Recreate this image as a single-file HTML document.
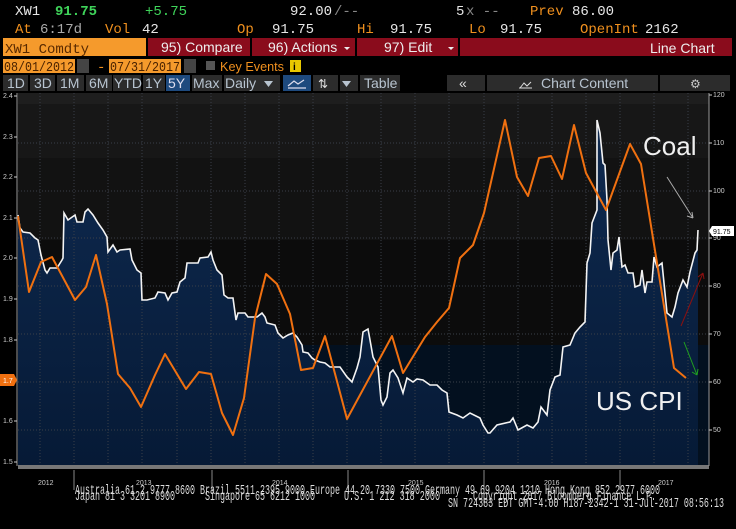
<!DOCTYPE html>
<html><head><meta charset="utf-8"><style>
html,body{margin:0;padding:0;background:#000;width:736px;height:529px;overflow:hidden}
svg{display:block}
.m{font-family:"Liberation Mono",monospace;font-size:14px}
.s{font-family:"Liberation Sans",sans-serif}
</style></head><body>
<svg width="736" height="529" viewBox="0 0 736 529" xmlns="http://www.w3.org/2000/svg">
<rect width="736" height="529" fill="#000"/>
<g class="m">
<text x="15" y="15" fill="#e6e6e6">XW1</text>
<text x="55" y="15" fill="#3fd45a" font-weight="bold">91.75</text>
<text x="145" y="15" fill="#3fd45a">+5.75</text>
<text x="290" y="15" fill="#e6e6e6">92.00</text><text x="334" y="15" fill="#888">/--</text>
<text x="456" y="15" fill="#e6e6e6">5</text><text x="466" y="15" fill="#888">x --</text>
<text x="530" y="15" fill="#f0901e">Prev</text><text x="572" y="15" fill="#e6e6e6">86.00</text>
<text x="15" y="33" fill="#f0901e">At</text><text x="40" y="33" fill="#aaa">6:17d</text>
<text x="105" y="33" fill="#f0901e">Vol</text><text x="142" y="33" fill="#e6e6e6">42</text>
<text x="237" y="33" fill="#f0901e">Op</text><text x="272" y="33" fill="#e6e6e6">91.75</text>
<text x="357" y="33" fill="#f0901e">Hi</text><text x="390" y="33" fill="#e6e6e6">91.75</text>
<text x="469" y="33" fill="#f0901e">Lo</text><text x="500" y="33" fill="#e6e6e6">91.75</text>
<text x="580" y="33" fill="#f0901e">OpenInt</text><text x="645" y="33" fill="#e6e6e6">2162</text>
</g>
<rect x="3" y="38" width="143" height="18" fill="#f59a2c"/>
<text x="5" y="53" class="m" fill="#5a2a00">XW1 Comdty</text>
<rect x="148" y="38" width="102" height="18" fill="#8a0c1c"/>
<rect x="252" y="38" width="103" height="18" fill="#8a0c1c"/>
<rect x="357" y="38" width="101" height="18" fill="#8a0c1c"/>
<rect x="460" y="38" width="272" height="18" fill="#8a0c1c"/>
<g class="s" font-size="14" fill="#eee">
<text x="161" y="52">95) Compare</text>
<text x="268" y="52">96) Actions</text>
<text x="384" y="52">97) Edit</text>
<text x="650" y="53">Line Chart</text>
</g>
<path d="M344 47h6l-3 3z M448 47h6l-3 3z" fill="#eee"/>
<rect x="3" y="59" width="72" height="14" fill="#f59a2c"/>
<text x="4" y="71" class="m" font-size="13" fill="#4a2200" textLength="70" lengthAdjust="spacingAndGlyphs">08/01/2012</text>
<rect x="77" y="59" width="12" height="14" fill="#444"/>
<text x="97" y="71" class="m" fill="#f0901e">-</text>
<rect x="109" y="59" width="72" height="14" fill="#f59a2c"/>
<text x="110" y="71" class="m" font-size="13" fill="#4a2200" textLength="70" lengthAdjust="spacingAndGlyphs">07/31/2017</text>
<rect x="184" y="59" width="12" height="14" fill="#444"/>
<rect x="206" y="61" width="9" height="9" fill="#555"/>
<text x="220" y="71" class="s" font-size="13" fill="#f0901e" textLength="64" lengthAdjust="spacingAndGlyphs">Key Events</text>
<rect x="290" y="60" width="11" height="12" fill="#e8c800"/>
<text x="293" y="70" class="s" font-size="10" fill="#000" font-weight="bold">i</text>
<g fill="#2c2c2c">
<rect x="3" y="75" width="25" height="16"/><rect x="30" y="75" width="25" height="16"/>
<rect x="57" y="75" width="27" height="16"/><rect x="86" y="75" width="26" height="16"/>
<rect x="113" y="75" width="28" height="16"/><rect x="143" y="75" width="22" height="16"/>
<rect x="192" y="75" width="30" height="16"/><rect x="224" y="75" width="56" height="16"/>
<rect x="313" y="75" width="25" height="16"/><rect x="340" y="75" width="18" height="16"/>
<rect x="360" y="75" width="40" height="16"/><rect x="447" y="75" width="38" height="16"/>
<rect x="487" y="75" width="171" height="16"/><rect x="660" y="75" width="70" height="16"/>
</g>
<rect x="166" y="75" width="24" height="16" fill="#1e4a7e"/>
<rect x="283" y="75" width="28" height="16" fill="#1e4a7e"/>
<g class="s" font-size="14" fill="#b8c4d0">
<text x="7" y="88">1D</text><text x="34" y="88">3D</text><text x="60" y="88">1M</text>
<text x="89" y="88">6M</text><text x="114" y="88">YTD</text><text x="145" y="88">1Y</text>
<text x="168" y="88" fill="#dde">5Y</text><text x="193" y="88">Max</text><text x="225" y="88">Daily</text>
<text x="364" y="88">Table</text><text x="541" y="88">Chart Content</text>
</g>
<path d="M264 81h9l-4.5 6z M342 81h9l-4.5 6z" fill="#b8c4d0"/>
<path d="M288 86l6-5 4 3 6-4 M288 88h18" stroke="#dde" stroke-width="1.2" fill="none"/>
<text x="318" y="88" class="s" font-size="12" fill="#ddd">⇅</text>
<text x="459" y="88" class="s" font-size="14" fill="#ddd">«</text>
<path d="M520 88l4-5 3 3 4-4 M519 88h13" stroke="#ddd" fill="none"/>
<text x="690" y="88" class="s" font-size="12" fill="#ccc">⚙</text>
<rect x="18" y="93" width="691" height="372" fill="#0c0c0c"/>
<rect x="18" y="93" width="691" height="11" fill="#1e1e1e"/>
<rect x="18" y="104" width="691" height="54" fill="#171717"/>
<rect x="18" y="158" width="691" height="82" fill="#121212"/>
<rect x="18" y="345" width="691" height="120" fill="#03101f"/>
<defs><linearGradient id="g" x1="0" y1="0" x2="0" y2="1"><stop offset="0" stop-color="#0f2a50"/><stop offset="1" stop-color="#061a36"/></linearGradient></defs>
<polygon fill="url(#g)" points="18,465 18,215 20,228 23,232 30,233 35,238 38,240 41,255 45,270 47,273 50,268 57,268 62,260 63,258 64,213 68,220 75,215 77,222 83,222 85,212 88,209 93,215 98,223 103,230 107,237 108,252 113,245 117,252 120,250 130,249 132,260 137,270 141,273 142,300 147,300 155,298 158,292 165,293 168,300 172,293 177,292 180,282 185,278 187,263 198,263 200,258 208,257 211,252 213,260 217,270 222,275 224,295 228,298 233,298 236,320 238,313 245,313 248,317 253,317 257,317 262,313 265,317 267,323 275,325 278,333 283,338 288,335 293,333 297,337 302,345 303,352 308,353 312,358 315,360 320,362 325,363 330,367 340,367 347,377 352,382 357,368 360,357 363,332 368,329 370,340 373,357 378,367 381,400 383,405 387,397 390,373 393,370 398,378 403,393 407,378 413,382 417,379 423,380 430,385 437,385 442,390 447,393 449,412 457,415 463,418 470,413 480,418 483,425 488,433 490,433 497,425 510,422 513,418 518,430 527,425 533,428 538,422 541,407 547,415 550,390 555,377 560,375 563,347 570,345 575,333 580,327 585,322 587,263 590,253 592,223 597,210 597,120 600,133 603,163 605,165 607,200 608,240 611,270 613,253 617,250 619,237 622,267 625,265 628,273 633,273 635,287 640,285 642,270 645,293 647,282 652,282 654,257 657,267 662,263 667,313 672,317 675,307 678,293 683,280 687,287 690,272 695,253 697,250 698,230 698,465"/>
<g stroke="#3a3f48" stroke-width="1" stroke-dasharray="1,2">
<path d="M18 143H709M18 191H709M18 238H709M18 286H709M18 334H709M18 382H709M18 430H709"/>
<path d="M40 93V465M74 93V465M108 93V465M142 93V465M177 93V465M211 93V465M245 93V465M279 93V465M313 93V465M347 93V465M381 93V465M415 93V465M449 93V465M484 93V465M518 93V465M552 93V465M586 93V465M620 93V465M654 93V465M688 93V465"/>
</g>
<polyline fill="none" stroke="#f4f4f4" stroke-width="1.6" points="18,215 20,228 23,232 30,233 35,238 38,240 41,255 45,270 47,273 50,268 57,268 62,260 63,258 64,213 68,220 75,215 77,222 83,222 85,212 88,209 93,215 98,223 103,230 107,237 108,252 113,245 117,252 120,250 130,249 132,260 137,270 141,273 142,300 147,300 155,298 158,292 165,293 168,300 172,293 177,292 180,282 185,278 187,263 198,263 200,258 208,257 211,252 213,260 217,270 222,275 224,295 228,298 233,298 236,320 238,313 245,313 248,317 253,317 257,317 262,313 265,317 267,323 275,325 278,333 283,338 288,335 293,333 297,337 302,345 303,352 308,353 312,358 315,360 320,362 325,363 330,367 340,367 347,377 352,382 357,368 360,357 363,332 368,329 370,340 373,357 378,367 381,400 383,405 387,397 390,373 393,370 398,378 403,393 407,378 413,382 417,379 423,380 430,385 437,385 442,390 447,393 449,412 457,415 463,418 470,413 480,418 483,425 488,433 490,433 497,425 510,422 513,418 518,430 527,425 533,428 538,422 541,407 547,415 550,390 555,377 560,375 563,347 570,345 575,333 580,327 585,322 587,263 590,253 592,223 597,210 597,120 600,133 603,163 605,165 607,200 608,240 611,270 613,253 617,250 619,237 622,267 625,265 628,273 633,273 635,287 640,285 642,270 645,293 647,282 652,282 654,257 657,267 662,263 667,313 672,317 675,307 678,293 683,280 687,287 690,272 695,253 697,250 698,230"/>
<polyline fill="none" stroke="#f07010" stroke-width="2" stroke-linejoin="round" points="18,216 29,292 41,262 52,257 75,300 86,287 96,255 107,304 118,374 130,388 141,407 155,375 165,354 186,389 199,372 211,374 222,413 233,435 244,398 255,318 266,274 277,284 290,314 301,370 313,368 325,336 347,419 392,336 403,373 425,337 437,322 449,308 460,258 473,245 484,213 505,120 517,177 528,196 539,158 551,156 562,179 574,125 586,173 606,210 630,144 641,164 674,368 686,378"/>
<rect x="18" y="465" width="691" height="4" fill="#777"/>
<path d="M17 93V466" stroke="#999"/>
<path d="M709 93V466" stroke="#999"/>
<g class="s" font-size="7" fill="#ccc">
<text x="3" y="98">2.4</text><text x="3" y="139">2.3</text><text x="3" y="179">2.2</text><text x="3" y="220">2.1</text><text x="3" y="260">2.0</text><text x="3" y="301">1.9</text><text x="3" y="342">1.8</text><text x="3" y="423">1.6</text><text x="3" y="464">1.5</text>
<text x="713" y="97">120</text><text x="713" y="145">110</text><text x="713" y="193">100</text><text x="713" y="240">90</text><text x="713" y="288">80</text><text x="713" y="336">70</text><text x="713" y="384">60</text><text x="713" y="432">50</text>
</g>
<g stroke="#ccc"><path d="M14 96h3M14 137h3M14 177h3M14 218h3M14 258h3M14 299h3M14 340h3M14 421h3M14 462h3M709 95h3M709 143h3M709 191h3M709 238h3M709 286h3M709 334h3M709 382h3M709 430h3"/></g>
<path d="M0 374h14l3 6-3 6H0z" fill="#f07010"/>
<text x="3" y="383" class="s" font-size="7" fill="#fff">1.7</text>
<path d="M712 226h22v10h-22l-3-5z" fill="#fff"/>
<text x="713" y="234" class="s" font-size="7" fill="#000">91.75</text>
<text x="643" y="155" class="s" font-size="26" fill="#f0f0f0">Coal</text>
<text x="596" y="410" class="s" font-size="26" fill="#f0f0f0">US CPI</text>
<g fill="none" stroke-width="1">
<path d="M667 177L693 218M693 218l-6-2M693 218l-1-6" stroke="#aaa"/>
<path d="M681 326L703 273M703 273l-5 4M703 273l1 6" stroke="#8b1010"/>
<path d="M684 342L697 375M697 375l-5-3M697 375l1-6" stroke="#20a020"/>
</g>
<g class="s" font-size="7" fill="#ccc">
<text x="38" y="485">2012</text><text x="136" y="485">2013</text><text x="272" y="485">2014</text><text x="408" y="485">2015</text><text x="544" y="485">2016</text><text x="658" y="485">2017</text>
</g>
<g stroke="#888"><path d="M74 470v20M212 470v20M348 470v20M484 470v20M620 470v20"/></g>
<g class="m" font-size="8" fill="#ddd">
<text x="75" y="494" textLength="585" lengthAdjust="spacingAndGlyphs">Australia 61 2 9777 8600 Brazil 5511 2395 9000 Europe 44 20 7330 7500 Germany 49 69 9204 1210 Hong Kong 852 2977 6000</text>
<text x="75" y="500" textLength="100" lengthAdjust="spacingAndGlyphs">Japan 81 3 3201 8900</text>
<text x="205" y="500" textLength="110" lengthAdjust="spacingAndGlyphs">Singapore 65 6212 1000</text>
<text x="344" y="500" textLength="96" lengthAdjust="spacingAndGlyphs">U.S. 1 212 318 2000</text>
<text x="473" y="500" textLength="183" lengthAdjust="spacingAndGlyphs">Copyright 2017 Bloomberg Finance L.P.</text>
<text x="448" y="507" textLength="276" lengthAdjust="spacingAndGlyphs">SN 724383 EDT  GMT-4:00 H187-2342-1 31-Jul-2017 08:56:13</text>
</g>
</svg>
</body></html>
